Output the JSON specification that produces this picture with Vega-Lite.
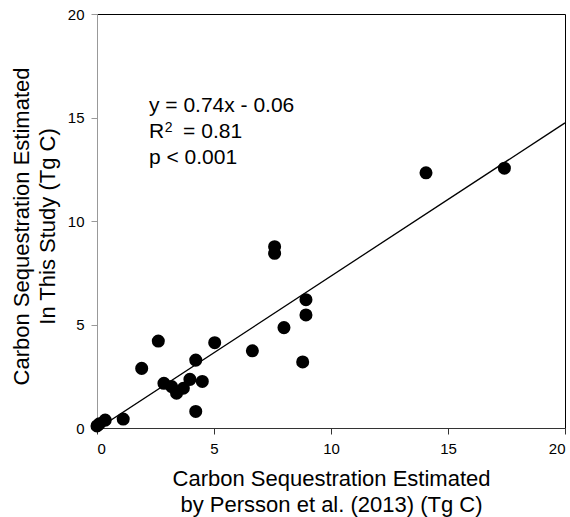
{
  "$schema": "https://vega.github.io/schema/vega-lite/v6.json",
  "width": 468,
  "height": 414,
  "autosize": {"type": "none"},
  "padding": {"left": 97, "top": 14, "right": 5, "bottom": 89},
  "background": "white",
  "config": {
    "view": {"stroke": null},
    "axis": {
      "grid": false,
      "labelFont": "Liberation Sans",
      "titleFont": "Liberation Sans",
      "labelFontSize": 15,
      "labelColor": "#000",
      "titleColor": "#000",
      "titleFontWeight": "normal",
      "titleFontSize": 22,
      "tickSize": 6
    }
  },
  "layer": [
    {
      "data": {"values": [
        {"persson": 0.0, "study": 0.1},
        {"persson": 0.1, "study": 0.2},
        {"persson": 0.35, "study": 0.38},
        {"persson": 1.12, "study": 0.43},
        {"persson": 1.91, "study": 2.88},
        {"persson": 2.62, "study": 4.2},
        {"persson": 2.86, "study": 2.16},
        {"persson": 3.19, "study": 2.0},
        {"persson": 3.4, "study": 1.68},
        {"persson": 3.69, "study": 1.92},
        {"persson": 3.97, "study": 2.35},
        {"persson": 4.22, "study": 0.8},
        {"persson": 4.22, "study": 3.28},
        {"persson": 4.5, "study": 2.25},
        {"persson": 5.03, "study": 4.12},
        {"persson": 6.64, "study": 3.73},
        {"persson": 7.59, "study": 8.76},
        {"persson": 7.59, "study": 8.44},
        {"persson": 7.99, "study": 4.85},
        {"persson": 8.79, "study": 3.19},
        {"persson": 8.93, "study": 5.46},
        {"persson": 8.93, "study": 6.2},
        {"persson": 14.06, "study": 12.33},
        {"persson": 17.41, "study": 12.55}
      ]},
      "mark": {"type": "point", "shape": "circle", "filled": true, "size": 170, "color": "#000", "opacity": 1},
      "encoding": {
        "x": {
          "field": "persson", "type": "quantitative",
          "scale": {"domain": [0, 20], "nice": false, "zero": false},
          "axis": {
            "values": [0, 5, 10, 15, 20],
            "domainColor": "#333", "tickColor": "#333",
            "labelPadding": 7,
            "title": ["Carbon Sequestration Estimated", "by Persson et al. (2013) (Tg C)"],
            "titleLineHeight": 26,
            "titleBaseline": "top",
            "titleY": 40
          }
        },
        "y": {
          "field": "study", "type": "quantitative",
          "scale": {"domain": [0, 20], "nice": false, "zero": false},
          "axis": {
            "values": [0, 5, 10, 15, 20],
            "domainColor": "#999", "tickColor": "#999",
            "labelPadding": 7,
            "title": ["Carbon Sequestration Estimated", "In This Study (Tg C)"],
            "titleLineHeight": 26,
            "titleAngle": -90,
            "titleBaseline": "top",
            "titleX": -86,
            "titleY": 212
          }
        }
      }
    },
    {
      "data": {"values": [{"x": 0, "y": -0.06}, {"x": 20, "y": 14.74}]},
      "mark": {"type": "line", "color": "#000", "strokeWidth": 1.3, "clip": true},
      "encoding": {
        "x": {"field": "x", "type": "quantitative", "scale": {"domain": [0, 20], "nice": false, "zero": false},
              "axis": {"orient": "top", "labels": false, "ticks": false, "title": null, "domainColor": "#000"}},
        "y": {"field": "y", "type": "quantitative", "scale": {"domain": [0, 20], "nice": false, "zero": false},
              "axis": {"orient": "right", "labels": false, "ticks": false, "title": null, "domainColor": "#000"}}
      }
    },
    {
      "data": {"values": [
        {"x": 2.22, "y": 15.27, "label": "y = 0.74x - 0.06"},
        {"x": 2.22, "y": 14.0, "label": "R"},
        {"x": 3.68, "y": 14.0, "label": "= 0.81"},
        {"x": 2.22, "y": 12.75, "label": "p < 0.001"}
      ]},
      "mark": {"type": "text", "align": "left", "baseline": "alphabetic", "font": "Liberation Sans", "fontSize": 21, "color": "#000"},
      "encoding": {
        "x": {"field": "x", "type": "quantitative", "scale": {"domain": [0, 20], "nice": false, "zero": false}, "axis": null},
        "y": {"field": "y", "type": "quantitative", "scale": {"domain": [0, 20], "nice": false, "zero": false}, "axis": null},
        "text": {"field": "label"}
      }
    },
    {
      "data": {"values": [
        {"x": 2.9, "y": 14.0, "label": "2"}
      ]},
      "mark": {"type": "text", "align": "left", "baseline": "alphabetic", "font": "Liberation Sans", "fontSize": 14, "dy": -6, "color": "#000"},
      "encoding": {
        "x": {"field": "x", "type": "quantitative", "scale": {"domain": [0, 20], "nice": false, "zero": false}, "axis": null},
        "y": {"field": "y", "type": "quantitative", "scale": {"domain": [0, 20], "nice": false, "zero": false}, "axis": null},
        "text": {"field": "label"}
      }
    }
  ],
  "resolve": {"axis": {"x": "independent", "y": "independent"}}
}
